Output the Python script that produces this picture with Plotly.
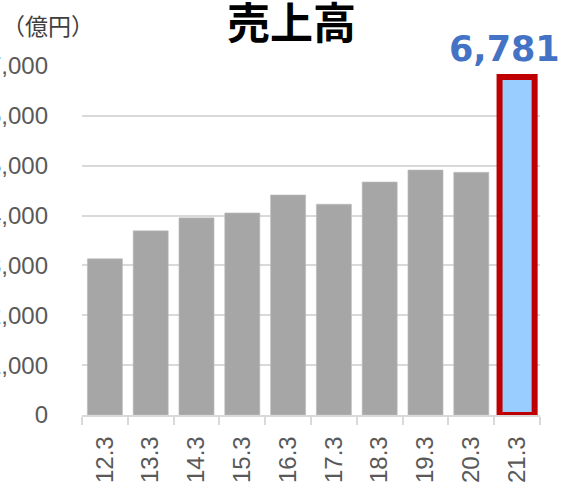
import plotly.graph_objects as go

categories = ["12.3", "13.3", "14.3", "15.3", "16.3", "17.3", "18.3", "19.3", "20.3", "21.3"]
sales = [3134, 3694, 3954, 4054, 4414, 4228, 4674, 4914, 4868, 6781]
y_ticks = [0, 1000, 2000, 3000, 4000, 5000, 6000, 7000]
y_tick_labels = ["0", "1,000", "2,000", "3,000", "4,000", "5,000", "6,000", "7,000"]
highlight_index = 9

bar_colors = ["#A6A6A6"] * len(categories)
bar_colors[highlight_index] = "#99CCFF"
line_colors = ["#BFBFBF"] * len(categories)
line_colors[highlight_index] = "#C00000"
line_widths = [0.6] * len(categories)
line_widths[highlight_index] = 6

W, H = 562, 484
ml, mr, mt, mb = 82, 22, 66, 69
pw, ph = W - ml - mr, H - mt - mb


def px_x(x):
    return (x - ml) / pw


def px_y(y):
    return (H - mb - y) / ph


fig = go.Figure(go.Bar(
    x=categories,
    y=sales,
    marker=dict(color=bar_colors, line=dict(color=line_colors, width=line_widths)),
    cliponaxis=False,
    hoverinfo="skip",
))

fig.add_annotation(
    x=highlight_index, y=sales[highlight_index],
    text=f"{sales[highlight_index]:,}",
    showarrow=False, yanchor="bottom", xanchor="center",
    xshift=-13, yshift=6,
    font=dict(family="DejaVu Sans", size=35, color="#4472C4", weight="bold"),
)
fig.add_annotation(
    xref="paper", yref="paper", x=px_x(291), y=px_y(20),
    xanchor="center", yanchor="middle",
    text="<b>売上高</b>", showarrow=False,
    font=dict(family="Noto Sans CJK JP", size=43, color="#000000"),
)
fig.add_annotation(
    xref="paper", yref="paper", x=px_x(48), y=px_y(25),
    xanchor="center", yanchor="middle",
    text="（億円）", showarrow=False,
    font=dict(family="Noto Sans CJK JP", size=23, color="#404040"),
)

fig.update_layout(
    width=W, height=H,
    margin=dict(l=ml, r=mr, t=mt, b=mb),
    paper_bgcolor="white", plot_bgcolor="white",
    bargap=0.234,
    showlegend=False,
    xaxis=dict(
        type="category",
        range=[-0.5, len(categories) - 0.5],
        automargin=False,
        tickangle=-90,
        tickson="boundaries",
        ticks="outside", ticklen=8, tickwidth=1.5, tickcolor="#D9D9D9",
        showline=True, linecolor="#D9D9D9", linewidth=1.5,
        ticklabelstandoff=10,
        tickfont=dict(family="Liberation Sans", size=24, color="#595959"),
        showgrid=False,
    ),
    yaxis=dict(
        range=[0, 7000],
        automargin=False,
        tickvals=y_ticks, ticktext=y_tick_labels,
        showgrid=True, gridcolor="#D9D9D9", gridwidth=1.5,
        zeroline=False,
        ticks="", ticklabelstandoff=33,
        tickfont=dict(family="Liberation Sans", size=24, color="#595959"),
    ),
)

fig.write_html(
    "out.html",
    config={"displayModeBar": False},
    post_script="document.body.style.margin='0px';document.body.style.overflow='hidden';",
)
